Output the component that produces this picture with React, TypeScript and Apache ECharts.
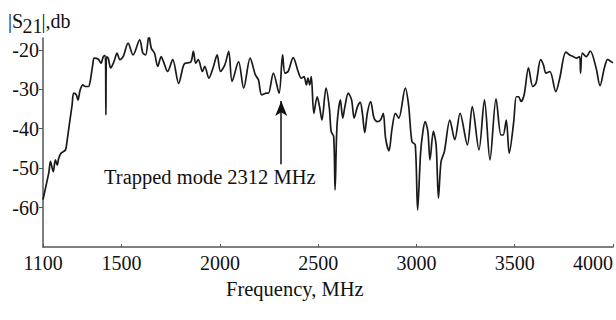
import React, { useEffect, useRef } from "react";
import * as echarts from "echarts";

const freqMHz = [
  1100, 1113, 1130, 1138, 1152, 1163, 1172, 1180, 1192, 1214, 1222, 1236, 1248, 1256, 1269, 1278, 1289, 1303, 1315, 1331,
  1340, 1353, 1361, 1382, 1395, 1407, 1417, 1420, 1423, 1432, 1444, 1461, 1477, 1491, 1508, 1533, 1558, 1592, 1608, 1622,
  1639, 1651, 1667, 1684, 1701, 1713, 1734, 1760, 1790, 1813, 1823, 1852, 1865, 1877, 1890, 1911, 1923, 1944, 1965, 1986,
  2003, 2025, 2045, 2062, 2095, 2121, 2154, 2180, 2196, 2213, 2238, 2247, 2272, 2301, 2319, 2331, 2347, 2373, 2398, 2414,
  2428, 2440, 2448, 2457, 2465, 2478, 2495, 2507, 2519, 2540, 2557, 2566, 2579, 2586, 2596, 2613, 2625, 2636, 2653, 2670,
  2683, 2700, 2714, 2725, 2737, 2750, 2767, 2784, 2801, 2817, 2831, 2843, 2860, 2876, 2893, 2910, 2943, 2960, 2977, 2994,
  3006, 3021, 3033, 3044, 3058, 3069, 3086, 3100, 3112, 3125, 3142, 3170, 3195, 3222, 3259, 3284, 3318, 3346, 3374, 3405,
  3430, 3441, 3457, 3472, 3495, 3508, 3520, 3532, 3548, 3570, 3592, 3608, 3632, 3646, 3659, 3679, 3709, 3729, 3760, 3780,
  3797, 3813, 3830, 3835, 3844, 3864, 3884, 3914, 3934, 3956, 3973, 3990, 4000,
];

const s21dB = [
  -58, -55, -51, -48.3, -50.9, -47.9, -49.2, -47.5, -46.2, -45.4, -43.3, -38.2, -34, -31, -31.4, -32.7, -30.2, -28.9, -29.3, -29.3,
  -28, -23.8, -22.1, -22.4, -23.4, -21.7, -21.4, -36.5, -21.7, -22.1, -24.6, -23, -20.8, -22.5, -21.7, -18.3, -21.3, -17.5, -20.8, -21.3,
  -16.4, -19.6, -20.8, -24.2, -21.7, -23, -25.5, -22.5, -28.5, -24.2, -23.4, -23.1, -20.4, -23.4, -22.5, -25.5, -24.2, -27.2, -24.6, -21.3,
  -25.5, -23.8, -20.4, -28, -23, -29.7, -22.1, -26.3, -27.6, -31.4, -31, -31, -25.9, -31, -21.3, -25.9, -25.5, -22, -25.5, -27.2,
  -26.8, -28.9, -27.2, -28.9, -26.8, -36.1, -31.9, -34.4, -37.8, -29.7, -34.8, -40.7, -42, -55.5, -39, -32.7, -37.3, -34.4, -31, -32.7,
  -37.3, -34.4, -33.3, -36.1, -41, -36.1, -33.1, -37.3, -38.2, -37.8, -36.1, -42.4, -45.6, -39.9, -36.1, -37.3, -29.7, -34, -43.3, -44.1,
  -60.6, -46.2, -40.7, -38.2, -40.7, -47.9, -40.7, -44.1, -57.6, -48.4, -45.8, -37.8, -42.8, -36.1, -44.1, -34.4, -45.4, -32.7, -47.9, -32.4,
  -41.6, -41.6, -37.8, -46.2, -38.2, -31.9, -31.9, -33.1, -31.4, -24.6, -29.3, -28.5, -22.5, -23.8, -25.9, -25.5, -30.6, -27.2, -20.6, -21.3,
  -21.7, -22.1, -21.7, -25.9, -20.8, -21.7, -20.3, -24.6, -29.1, -24.6, -22.4, -23, -23.3,
];

const xTickValues = [1100, 1500, 2000, 2500, 3000, 3500, 4000];
const yTickValues = [-60, -50, -40, -30, -20];
const trappedModeMHz = 2312;
const arrowFromDb = -49;
const arrowToDb = -33;
const annotationText = "Trapped mode 2312 MHz";
const xAxisTitle = "Frequency, MHz";

export default function App() {
  const ref = useRef<HTMLDivElement>(null);
  useEffect(() => {
    const chart = echarts.init(ref.current!, null, { renderer: "svg" });
    const family = "'Liberation Serif', 'Times New Roman', serif";
    const axisColor = "#555";
    const plain = (v: number) => String(v);
    chart.setOption({
      animation: false,
      backgroundColor: "#fff",
      grid: { left: 43, right: 0, top: 38, bottom: 73 },
      xAxis: {
        type: "value",
        min: 1100,
        max: 4000,
        splitLine: { show: false },
        axisLine: { show: true, onZero: false, lineStyle: { color: axisColor, width: 1.5 } },
        axisTick: { show: true, inside: true, length: 3, customValues: xTickValues, lineStyle: { color: axisColor } },
        axisLabel: {
          customValues: xTickValues,
          formatter: plain,
          margin: 6,
          fontFamily: family,
          fontSize: 20,
          color: "#111",
          alignMaxLabel: "right",
        },
      },
      yAxis: {
        type: "value",
        min: -70,
        max: -17,
        splitLine: { show: false },
        axisLine: { show: true, onZero: false, lineStyle: { color: axisColor, width: 1.5 } },
        axisTick: { show: true, inside: false, length: 4, customValues: yTickValues, lineStyle: { color: axisColor } },
        axisLabel: {
          customValues: yTickValues,
          formatter: plain,
          margin: 4,
          fontFamily: family,
          fontSize: 20,
          color: "#111",
        },
      },
      series: [
        {
          type: "line",
          data: freqMHz.map((f, i) => [f, s21dB[i]]),
          symbol: "none",
          smooth: 0.3,
          lineStyle: { color: "#1a1a1a", width: 1.7 },
          markLine: {
            silent: true,
            symbol: ["none", "arrow"],
            symbolSize: [9, 15],
            label: { show: false },
            lineStyle: { color: "#111", width: 1.5, type: "solid" },
            data: [[{ coord: [trappedModeMHz, arrowFromDb] }, { coord: [trappedModeMHz, arrowToDb] }]],
          },
        },
      ],
      graphic: [
        { type: "text", left: 8, top: 11, style: { text: "|S", font: `20px ${family}`, fill: "#111" } },
        { type: "text", left: 22.5, top: 16, style: { text: "21", font: `20px ${family}`, fill: "#111" } },
        { type: "text", left: 41.5, top: 11, style: { text: "|,db", font: `20px ${family}`, fill: "#111" } },
        { type: "text", left: 104, top: 166, style: { text: annotationText, font: `20.5px ${family}`, fill: "#111" } },
        { type: "text", left: 226, top: 278, style: { text: xAxisTitle, font: `20.5px ${family}`, fill: "#111" } },
      ],
    });
    return () => chart.dispose();
  }, []);
  return (
    <div
      ref={ref}
      style={{ position: "fixed", left: 0, top: 0, width: 616, height: 320, background: "#fff" }}
    />
  );
}
